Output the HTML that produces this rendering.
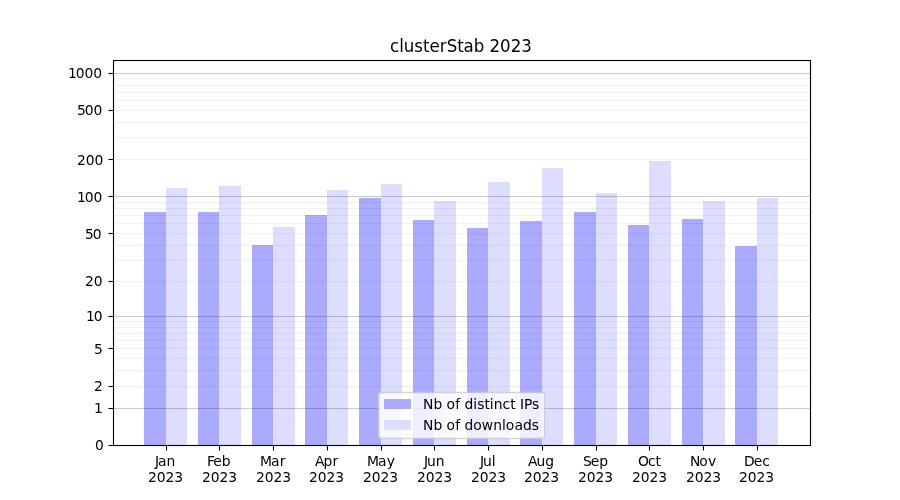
<!DOCTYPE html>
<html lang="en"><head><meta charset="utf-8"><title>clusterStab 2023</title>
<style>html,body{margin:0;padding:0;background:#fff;overflow:hidden}svg{display:block}text{font-family:"DejaVu Sans","Liberation Sans",sans-serif;font-size:13.889px;fill:#000;white-space:pre}.t{font-size:16.667px}</style></head><body>
<svg width="900" height="500" viewBox="0 0 900 500">
<rect width="900" height="500" fill="#fff"/>
<g shape-rendering="crispEdges">
<rect x="144" y="212" width="22" height="233" fill="#aaaaff"/><rect x="166" y="188" width="21" height="257" fill="#ddddff"/>
<rect x="198" y="212" width="21" height="233" fill="#aaaaff"/><rect x="219" y="186" width="22" height="259" fill="#ddddff"/>
<rect x="252" y="245" width="21" height="200" fill="#aaaaff"/><rect x="273" y="227" width="22" height="218" fill="#ddddff"/>
<rect x="305" y="215" width="22" height="230" fill="#aaaaff"/><rect x="327" y="190" width="21" height="255" fill="#ddddff"/>
<rect x="359" y="198" width="22" height="247" fill="#aaaaff"/><rect x="381" y="184" width="21" height="261" fill="#ddddff"/>
<rect x="413" y="220" width="21" height="225" fill="#aaaaff"/><rect x="434" y="201" width="22" height="244" fill="#ddddff"/>
<rect x="467" y="228" width="21" height="217" fill="#aaaaff"/><rect x="488" y="182" width="22" height="263" fill="#ddddff"/>
<rect x="520" y="221" width="22" height="224" fill="#aaaaff"/><rect x="542" y="168" width="21" height="277" fill="#ddddff"/>
<rect x="574" y="212" width="22" height="233" fill="#aaaaff"/><rect x="596" y="193" width="21" height="252" fill="#ddddff"/>
<rect x="628" y="225" width="21" height="220" fill="#aaaaff"/><rect x="649" y="161" width="22" height="284" fill="#ddddff"/>
<rect x="682" y="219" width="21" height="226" fill="#aaaaff"/><rect x="703" y="201" width="22" height="244" fill="#ddddff"/>
<rect x="735" y="246" width="22" height="199" fill="#aaaaff"/><rect x="757" y="198" width="21" height="247" fill="#ddddff"/>
</g>
<g fill="#000">
<rect x="113.5" y="407.944" width="697" height="1.111" fill-opacity="0.2"/>
<rect x="113.5" y="385.944" width="697" height="1.111" fill-opacity="0.05"/>
<rect x="113.5" y="369.944" width="697" height="1.111" fill-opacity="0.05"/>
<rect x="113.5" y="357.944" width="697" height="1.111" fill-opacity="0.05"/>
<rect x="113.5" y="347.944" width="697" height="1.111" fill-opacity="0.05"/>
<rect x="113.5" y="339.944" width="697" height="1.111" fill-opacity="0.05"/>
<rect x="113.5" y="332.944" width="697" height="1.111" fill-opacity="0.05"/>
<rect x="113.5" y="326.944" width="697" height="1.111" fill-opacity="0.05"/>
<rect x="113.5" y="320.944" width="697" height="1.111" fill-opacity="0.05"/>
<rect x="113.5" y="315.944" width="697" height="1.111" fill-opacity="0.2"/>
<rect x="113.5" y="280.944" width="697" height="1.111" fill-opacity="0.05"/>
<rect x="113.5" y="259.944" width="697" height="1.111" fill-opacity="0.05"/>
<rect x="113.5" y="244.944" width="697" height="1.111" fill-opacity="0.05"/>
<rect x="113.5" y="232.944" width="697" height="1.111" fill-opacity="0.05"/>
<rect x="113.5" y="222.944" width="697" height="1.111" fill-opacity="0.05"/>
<rect x="113.5" y="214.944" width="697" height="1.111" fill-opacity="0.05"/>
<rect x="113.5" y="207.944" width="697" height="1.111" fill-opacity="0.05"/>
<rect x="113.5" y="201.944" width="697" height="1.111" fill-opacity="0.05"/>
<rect x="113.5" y="195.944" width="697" height="1.111" fill-opacity="0.2"/>
<rect x="113.5" y="158.944" width="697" height="1.111" fill-opacity="0.05"/>
<rect x="113.5" y="136.944" width="697" height="1.111" fill-opacity="0.05"/>
<rect x="113.5" y="121.944" width="697" height="1.111" fill-opacity="0.05"/>
<rect x="113.5" y="109.944" width="697" height="1.111" fill-opacity="0.05"/>
<rect x="113.5" y="99.944" width="697" height="1.111" fill-opacity="0.05"/>
<rect x="113.5" y="91.944" width="697" height="1.111" fill-opacity="0.05"/>
<rect x="113.5" y="84.944" width="697" height="1.111" fill-opacity="0.05"/>
<rect x="113.5" y="77.944" width="697" height="1.111" fill-opacity="0.05"/>
<rect x="113.5" y="72.944" width="697" height="1.111" fill-opacity="0.2"/>
</g>
<g fill="#000">
<rect x="108.5" y="444.944" width="5" height="1.111"/>
<rect x="108.5" y="407.944" width="5" height="1.111"/>
<rect x="108.5" y="385.944" width="5" height="1.111"/>
<rect x="108.5" y="347.944" width="5" height="1.111"/>
<rect x="108.5" y="315.944" width="5" height="1.111"/>
<rect x="108.5" y="280.944" width="5" height="1.111"/>
<rect x="108.5" y="232.944" width="5" height="1.111"/>
<rect x="108.5" y="195.944" width="5" height="1.111"/>
<rect x="108.5" y="158.944" width="5" height="1.111"/>
<rect x="108.5" y="109.944" width="5" height="1.111"/>
<rect x="108.5" y="72.944" width="5" height="1.111"/>
<rect x="165.944" y="445.5" width="1.111" height="5"/>
<rect x="218.944" y="445.5" width="1.111" height="5"/>
<rect x="272.944" y="445.5" width="1.111" height="5"/>
<rect x="326.944" y="445.5" width="1.111" height="5"/>
<rect x="380.944" y="445.5" width="1.111" height="5"/>
<rect x="433.944" y="445.5" width="1.111" height="5"/>
<rect x="487.944" y="445.5" width="1.111" height="5"/>
<rect x="541.944" y="445.5" width="1.111" height="5"/>
<rect x="595.944" y="445.5" width="1.111" height="5"/>
<rect x="648.944" y="445.5" width="1.111" height="5"/>
<rect x="702.944" y="445.5" width="1.111" height="5"/>
<rect x="756.944" y="445.5" width="1.111" height="5"/>
</g>
<rect x="113.5" y="60.5" width="697" height="385" fill="none" stroke="#000" stroke-width="1.111"/>
<text x="94.93" y="450">0</text>
<text x="93.9" y="413">1</text>
<text x="93.93" y="391">2</text>
<text x="93.93" y="354">5</text>
<text x="85.9 93.78" y="321">10</text>
<text x="84.88 93.63" y="286">20</text>
<text x="84.88 92.63" y="239">50</text>
<text x="76.9 84.78 93.53" y="202">100</text>
<text x="76.93 85.68 94.43" y="165">200</text>
<text x="76.93 84.68 93.43" y="115">500</text>
<text x="67.96 75.83 84.58 93.33" y="78">1000</text>
<text x="154.91 157.91 166.54" y="466">Jan</text><text x="147.9 156.65 165.4 174.15" y="482">2023</text>
<text x="206.92 213.17 221.67" y="466">Feb</text><text x="201.94 210.69 219.44 228.19" y="482">2023</text>
<text x="259.88 270.88 279.76" y="466">Mar</text><text x="255.97 264.72 273.47 282.22" y="482">2023</text>
<text x="315.05 323.55 332.42" y="466">Apr</text><text x="308.91 317.66 326.41 335.16" y="482">2023</text>
<text x="366.96 377.96 386.83" y="466">May</text><text x="362.94 371.7 380.44 389.2" y="482">2023</text>
<text x="423.93 426.93 435.68" y="466">Jun</text><text x="416.88 425.63 434.38 443.13" y="482">2023</text>
<text x="479.91 482.91 491.66" y="466">Jul</text><text x="470.92 479.67 488.42 497.17" y="482">2023</text>
<text x="527.89 536.39 545.14" y="466">Aug</text><text x="523.95 532.7 541.45 550.2" y="482">2023</text>
<text x="582.93 590.68 599.18" y="466">Sep</text><text x="577.89 586.64 595.39 604.14" y="482">2023</text>
<text x="637.88 648 655.38" y="466">Oct</text><text x="631.93 640.68 649.43 658.18" y="482">2023</text>
<text x="689.95 699.33 708.08" y="466">Nov</text><text x="685.96 694.71 703.46 712.21" y="482">2023</text>
<text x="743.96 753.71 762.21" y="466">Dec</text><text x="738.9 747.65 756.4 765.15" y="482">2023</text>
<text class="t" x="390.01 399.14 403.76 414.26 423.01 429.51 439.76 446.64 457.14 463.39 473.76 484.26 489.51 499.89 510.64 521.26" y="0" transform="translate(0 52.0) scale(1 1.07)">clusterStab 2023</text>
<rect x="378.5" y="392.5" width="166" height="46" rx="2.78" ry="2.78" fill="#fff" stroke="#ccc" stroke-width="1.389" opacity="0.8"/>
<rect x="384" y="399" width="27" height="10" fill="#aaaaff" shape-rendering="crispEdges"/>
<rect x="384" y="420" width="27" height="10" fill="#ddddff" shape-rendering="crispEdges"/>
<text x="423.09 433.46 442.34 446.46 455.22 460.22 464.59 473.22 477.34 484.46 489.72 493.84 502.59 510.22 515.72 520.09 524.09 531.96" y="409">Nb of distinct IPs</text>
<text x="423.09 433.46 442.34 446.46 455.22 460.22 464.59 473.22 481.72 493.34 502.09 505.72 514.46 523.09 531.72" y="430">Nb of downloads</text>
</svg></body></html>
